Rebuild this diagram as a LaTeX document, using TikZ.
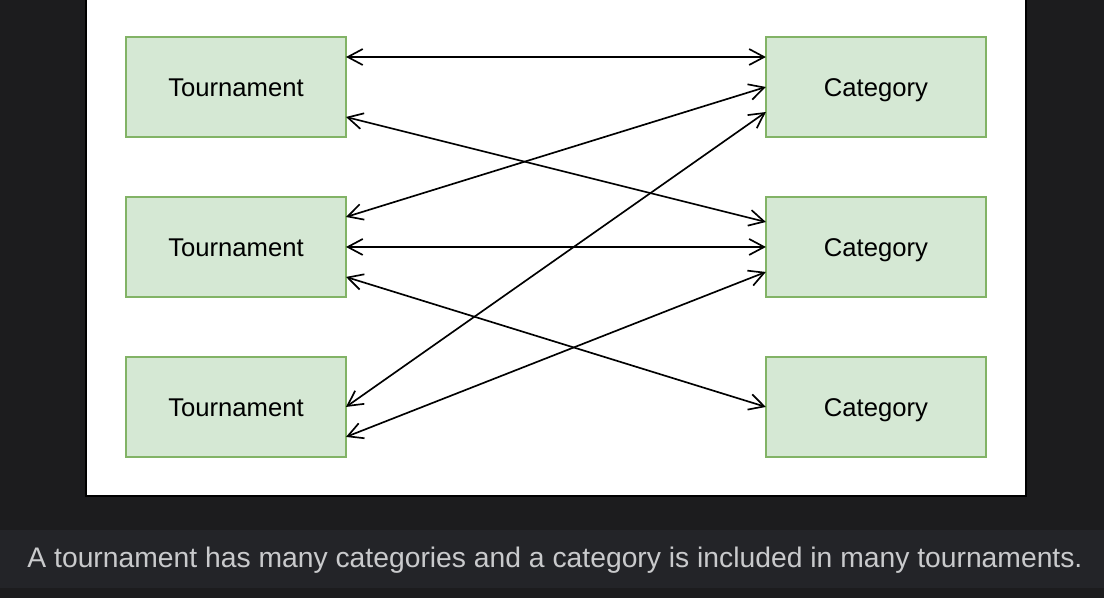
\documentclass[tikz,border=0pt]{standalone}
\usepackage{fontspec}
\setmainfont{Liberation Sans}
\usepackage{tikz}
\usetikzlibrary{arrows.meta, positioning}

\definecolor{pagebg}{HTML}{1C1C1E}
\definecolor{barbg}{HTML}{232428}
\definecolor{captxt}{HTML}{C9CACC}
\definecolor{boxfill}{HTML}{D5E8D4}
\definecolor{boxline}{HTML}{82B366}

\begin{document}
\begin{tikzpicture}[
    x=0.02cm, y=-0.02cm,
    node distance=1.2cm and 8.4cm,
    box/.style={rectangle, draw=boxline, fill=boxfill, line width=0.9pt,
                outer sep=0pt, minimum width=4.4cm, minimum height=2cm,
                align=center, text height=10.4pt, text depth=0pt,
                font=\fontsize{14.6}{17}\selectfont},
    tbox/.style={box},
    cbox/.style={box},
    link/.style={{Straight Barb[length=0.3cm, width=0.32cm]}-{Straight Barb[length=0.3cm, width=0.32cm]},
                 line width=0.95pt, black},
    caption/.style={font=\fontsize{16.1}{19}\selectfont, text=captxt}
]
%% Background and frame
\useasboundingbox (0,0) rectangle (1104,598);
\fill[pagebg] (0,0) rectangle (1104,598);
\draw[fill=white, line width=0.9pt] (86,-5) rectangle (1026,496);
\fill[barbg] (0,530) rectangle (1104,588);

%% Tournament nodes
\node[tbox] (t1) at (236,87) {Tournament};
\node[tbox, below=of t1] (t2) {Tournament};
\node[tbox, below=of t2] (t3) {Tournament};

%% Category nodes
\node[cbox, right=of t1] (c1) {Category};
\node[cbox, right=of t2] (c2) {Category};
\node[cbox, right=of t3] (c3) {Category};

%% Links
\draw[link] ([yshift=0.6cm]t1.east) -- ([yshift=0.6cm]c1.west);
\draw[link] ([yshift=-0.6cm]t1.east) -- ([yshift=0.5cm]c2.west);
\draw[link] ([yshift=0.6cm]t2.east) -- (c1.west);
\draw[link] (t2.east) -- (c2.west);
\draw[link] ([yshift=-0.6cm]t2.east) -- (c3.west);
\draw[link] (t3.east) -- ([yshift=-0.5cm]c1.west);
\draw[link] ([yshift=-0.6cm]t3.east) -- ([yshift=-0.5cm]c2.west);

%% Caption
\node[caption] (cap) at (555,560) {A tournament has many categories and a category is included in many tournaments.};

\end{tikzpicture}
\end{document}
